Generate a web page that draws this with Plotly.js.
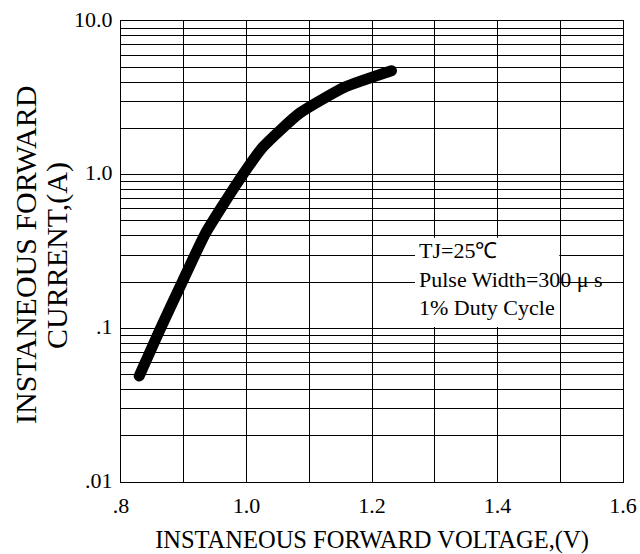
<!DOCTYPE html>
<html>
<head>
<meta charset="utf-8">
<script src="https://cdn.plot.ly/plotly-3.0.1.min.js"></script>
<style>
html,body{margin:0;padding:0;background:#fff;}
#chart{width:640px;height:554px;}
.scatterlayer path.js-line{stroke-linecap:round;stroke-linejoin:round;}
</style>
</head>
<body>
<div id="chart"></div>
<script>
// Data
var voltage = [0.829, 0.862, 0.899, 0.935, 0.985, 1.026, 1.085, 1.157, 1.231];
var current = [0.049, 0.098, 0.206, 0.418, 0.88, 1.51, 2.52, 3.72, 4.75];

// Tick values / labels
var xTickVals = [0.8, 0.9, 1.0, 1.1, 1.2, 1.3, 1.4, 1.5, 1.6];
var xTickText = ['.8', '', '1.0', '', '1.2', '', '1.4', '', '1.6'];
var yTickVals = [0.01, 0.02, 0.03, 0.04, 0.05, 0.06, 0.07, 0.08, 0.09,
                 0.1, 0.2, 0.3, 0.4, 0.5, 0.6, 0.7, 0.8, 0.9,
                 1, 2, 3, 4, 5, 6, 7, 8, 9, 10];
var yTickText = ['.01', '', '', '', '', '', '', '', '',
                 '.1', '', '', '', '', '', '', '', '',
                 '1.0', '', '', '', '', '', '', '', '',
                 '10.0'];
var xTitle = 'INSTANEOUS FORWARD VOLTAGE,(V)';
var yTitleLines = ['INSTANEOUS FORWARD', 'CURRENT,(A)'];
var noteLines = ['TJ=25\u2103', 'Pulse Width=300 \u03bc s', '1% Duty Cycle'];

var serif = 'Liberation Serif, Times New Roman, serif';

var trace = {
  x: voltage,
  y: current,
  type: 'scatter',
  mode: 'lines',
  line: {color: '#000', width: 11, shape: 'spline', smoothing: 0.5},
  hoverinfo: 'skip',
  showlegend: false
};

var layout = {
  width: 640,
  height: 554,
  margin: {l: 121, r: 17, t: 21, b: 72},
  paper_bgcolor: '#fff',
  plot_bgcolor: '#fff',
  font: {family: serif, color: '#000'},
  xaxis: {
    type: 'linear',
    range: [0.8, 1.6],
    tickmode: 'array',
    tickvals: xTickVals,
    ticktext: xTickText,
    showgrid: true,
    gridcolor: '#000',
    gridwidth: 1,
    zeroline: false,
    showline: true,
    linecolor: '#000',
    linewidth: 1,
    mirror: true,
    ticks: '',
    ticklabelstandoff: 4,
    tickfont: {family: serif, size: 22, color: '#000'},
    title: {text: xTitle, font: {family: serif, size: 24.5, color: '#000'}, standoff: 15},
    automargin: false
  },
  yaxis: {
    type: 'log',
    range: [-2, 1],
    tickmode: 'array',
    tickvals: yTickVals,
    ticktext: yTickText,
    showgrid: true,
    gridcolor: '#000',
    gridwidth: 1,
    zeroline: false,
    showline: true,
    linecolor: '#000',
    linewidth: 1,
    mirror: true,
    ticks: '',
    ticklabelstandoff: 3,
    ticklabelshift: -2,
    tickfont: {family: serif, size: 22, color: '#000'},
    automargin: false
  },
  shapes: [{
    type: 'rect',
    xref: 'x', yref: 'y',
    x0: 1.2685, x1: 1.4985,
    y0: 0.102, y1: 0.388,
    fillcolor: '#fff',
    line: {width: 0},
    layer: 'between'
  }],
  annotations: [{
    xref: 'x', yref: 'y',
    x: 1.272, y: Math.log10(0.2095),
    xanchor: 'left', yanchor: 'middle',
    align: 'left',
    showarrow: false,
    text: noteLines.join('<br>'),
    font: {family: serif, size: 22, color: '#000'}
  }, {
    xref: 'paper', yref: 'paper',
    x: -0.1912, y: 0.4924,
    xanchor: 'center', yanchor: 'middle',
    textangle: -90,
    showarrow: false,
    text: yTitleLines[0],
    font: {family: serif, size: 30, color: '#000'}
  }, {
    xref: 'paper', yref: 'paper',
    x: -0.1275, y: 0.4924,
    xanchor: 'center', yanchor: 'middle',
    textangle: -90,
    showarrow: false,
    text: yTitleLines[1],
    font: {family: serif, size: 30, color: '#000'}
  }]
};

Plotly.newPlot('chart', [trace], layout, {staticPlot: true, displayModeBar: false});
</script>
</body>
</html>
